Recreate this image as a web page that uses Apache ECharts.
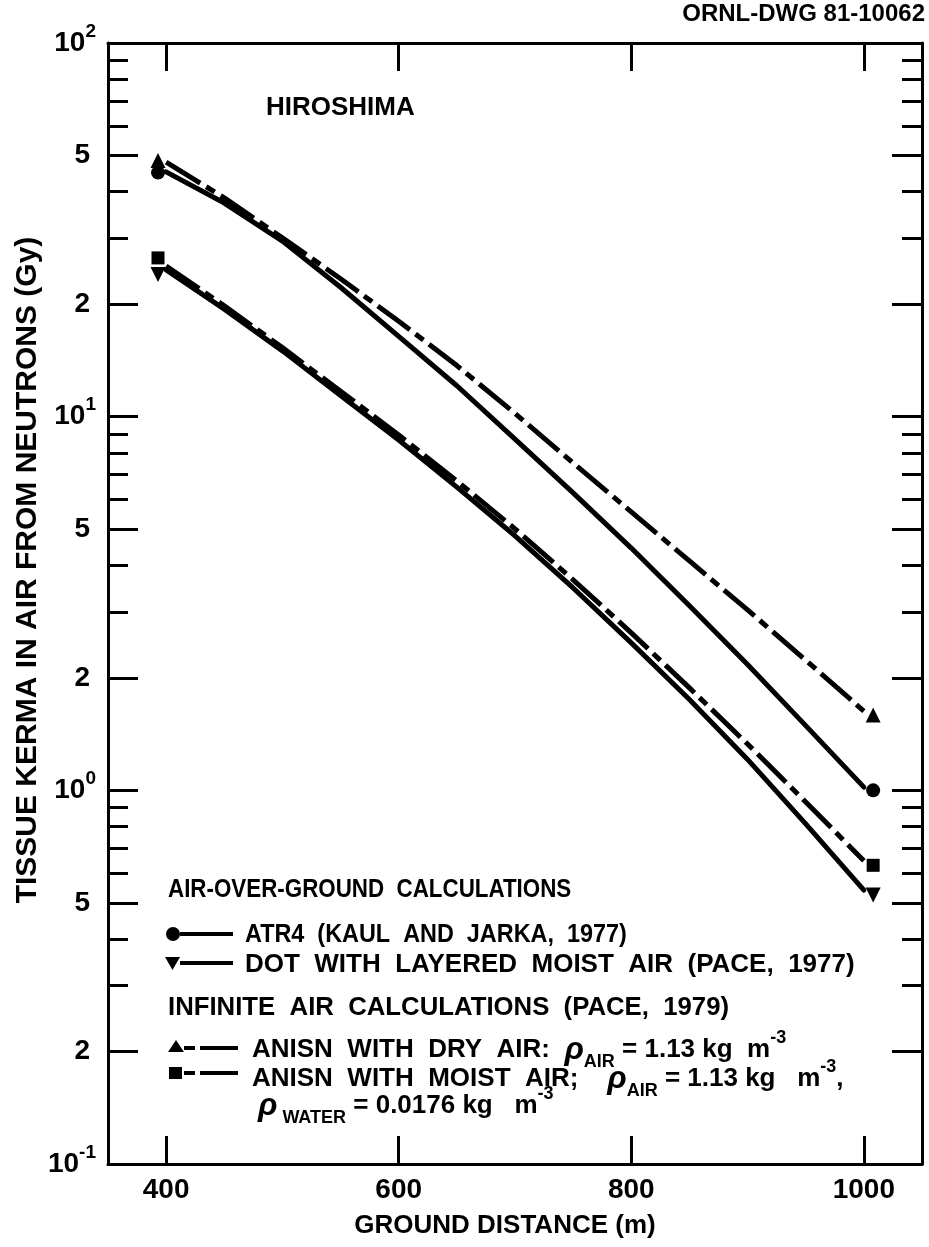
<!DOCTYPE html>
<html>
<head>
<meta charset="utf-8">
<script src="https://cdn.jsdelivr.net/npm/echarts@6/dist/echarts.min.js"></script>
<style>
  html, body { margin: 0; padding: 0; background: #fff; }
  #chart { width: 929px; height: 1247px; }
</style>
</head>
<body>
<div id="chart"></div>
<script>
// ---------------- data ----------------
const distances   = [400, 450, 500, 550, 600, 650, 700, 750, 800, 850, 900, 950, 1000];
const atr4        = [45.2, 37.3, 29.5, 22.2, 16.4, 12.1, 8.71, 6.25, 4.45, 3.12, 2.17, 1.49, 1.02];
const dotLayered  = [24.7, 19.4, 15.0, 11.4, 8.66, 6.48, 4.80, 3.48, 2.48, 1.75, 1.21, 0.813, 0.541];
const anisnDry    = [48.0, 38.5, 30.1, 23.4, 18.0, 13.7, 10.2, 7.52, 5.56, 4.11, 3.04, 2.23, 1.63];
const anisnMoist  = [25.3, 19.8, 15.3, 11.7, 8.93, 6.73, 5.01, 3.66, 2.64, 1.88, 1.33, 0.931, 0.648];

const markerDistances   = [393, 1008];
const atr4Markers       = [45.0, 1.0];
const dotMarkers        = [24.0, 0.525];
const anisnDryMarkers   = [48.5, 1.59];
const anisnMoistMarkers = [26.6, 0.63];

const xTickValues  = [400, 600, 800, 1000];
const yLabelValues = [0.1, 0.2, 0.5, 1, 2, 5, 10, 20, 50, 100];
const yMinorTicks  = [0.3, 0.4, 0.6, 0.7, 0.8, 0.9, 3, 4, 6, 7, 8, 9, 30, 40, 60, 70, 80, 90];

// ---------------- helpers ----------------
const FONT = '"Liberation Sans", Arial, sans-serif';
const pair = (xs, ys) => xs.map((x, i) => [x, ys[i]]);

function fmtY(v) {
  const e = Math.floor(Math.log10(v) + 1e-9);
  const m = Math.round(v / Math.pow(10, e));
  if (m === 1) return '{b|10}{s|' + e + '}';
  return '{d|' + m + '}';
}

const axisLineStyle = { color: '#000', width: 3 };
const tickStyle = { color: '#000', width: 3 };

function yAxisDef(position, ticks, len, showLine, showLabel) {
  return {
    type: 'log', logBase: 10, min: 0.1, max: 100, position: position,
    axisLine: { show: showLine, lineStyle: axisLineStyle },
    axisTick: { show: true, inside: true, length: len, customValues: ticks, lineStyle: tickStyle },
    minorTick: { show: false },
    splitLine: { show: false },
    axisLabel: showLabel ? {
      show: true, customValues: yLabelValues, formatter: fmtY, margin: 12, color: '#000',
      rich: {
        b: { fontSize: 28, fontWeight: 'bold', fontFamily: FONT, color: '#000', lineHeight: 42 },
        s: { fontSize: 19, fontWeight: 'bold', fontFamily: FONT, color: '#000', lineHeight: 20, verticalAlign: 'top' },
        d: { fontSize: 28, fontWeight: 'bold', fontFamily: FONT, color: '#000', padding: [0, 6, 0, 0] }
      }
    } : { show: false }
  };
}

const solid = { color: '#000', width: 5, type: 'solid', cap: 'round', join: 'round' };
const dashDot = { color: '#000', width: 5, type: [40, 7, 10, 7], cap: 'butt', join: 'round' };

function lineSeries(name, ys, style) {
  return {
    name: name, type: 'line', xAxisIndex: 0, yAxisIndex: 0,
    data: pair(distances, ys), showSymbol: false, symbol: 'none',
    smooth: false, lineStyle: style, itemStyle: { color: '#000' }, z: 3, silent: true
  };
}
function markerSeries(name, ys, symbol, size, rotate) {
  return {
    name: name, type: 'scatter', xAxisIndex: 0, yAxisIndex: 0,
    data: pair(markerDistances, ys), symbol: symbol, symbolSize: size, symbolRotate: rotate || 0,
    itemStyle: { color: '#000', opacity: 1 }, z: 5, silent: true
  };
}

// legend texts (rich)
const txt = { fontSize: 26, fontWeight: 'bold', fontFamily: FONT, fill: '#000' };
const richLegend = {
  t:   { fontSize: 26, fontWeight: 'bold', fontFamily: FONT, color: '#000', lineHeight: 42 },
  r:   { fontSize: 32, fontStyle: 'italic', fontWeight: 'bold', fontFamily: FONT, color: '#000', lineHeight: 42 },
  sub: { fontSize: 18, fontWeight: 'bold', fontFamily: FONT, color: '#000', lineHeight: 20, verticalAlign: 'bottom' },
  sup: { fontSize: 18, fontWeight: 'bold', fontFamily: FONT, color: '#000', lineHeight: 20, verticalAlign: 'top' }
};

function textEl(x, y, text, extra, sx) {
  return { type: 'text', x: x, y: y, z: 10, silent: true, scaleX: sx || 1,
    style: Object.assign({ text: text, verticalAlign: 'middle', align: 'left' }, txt, extra || {}) };
}
function richEl(x, y, text, sx) {
  return { type: 'text', x: x, y: y, z: 10, silent: true, scaleX: sx || 1,
    style: { text: text, rich: richLegend, verticalAlign: 'middle', align: 'left',
             fontSize: 26, fontWeight: 'bold', fontFamily: FONT, fill: '#000' } };
}
function seg(x1, x2, y, w) {
  return { type: 'line', z: 10, silent: true, shape: { x1: x1, y1: y, x2: x2, y2: y },
    style: { stroke: '#000', lineWidth: w || 4, lineCap: 'butt' } };
}

const graphics = [
  textEl(925, 14, 'ORNL-DWG 81-10062', { fontSize: 24, align: 'right' }),
  textEl(266, 108, 'HIROSHIMA', { fontSize: 26 }),
  { type: 'text', x: 28, y: 570, rotation: Math.PI / 2, z: 10, silent: true,
    style: Object.assign({ text: 'TISSUE KERMA IN AIR FROM NEUTRONS (Gy)', align: 'center', verticalAlign: 'middle' }, txt, { fontSize: 30 }) },
  textEl(505, 1226, 'GROUND DISTANCE (m)', { fontSize: 26, align: 'center' }),

  textEl(168, 890, 'AIR-OVER-GROUND  CALCULATIONS', null, 0.86),
  { type: 'circle', z: 10, silent: true, shape: { cx: 173, cy: 934, r: 7 }, style: { fill: '#000' } },
  seg(180, 233, 934),
  textEl(245, 935, 'ATR4  (KAUL  AND  JARKA,  1977)', null, 0.9),
  { type: 'polygon', z: 10, silent: true, shape: { points: [[165, 957], [180, 957], [172.5, 970]] }, style: { fill: '#000' } },
  seg(180, 233, 963),
  textEl(245, 965, 'DOT  WITH  LAYERED  MOIST  AIR  (PACE,  1977)', null, 1.0),

  textEl(168, 1008, 'INFINITE  AIR  CALCULATIONS  (PACE,  1979)', null, 0.99),
  { type: 'polygon', z: 10, silent: true, shape: { points: [[168, 1052], [184, 1052], [176, 1040]] }, style: { fill: '#000' } },
  seg(184, 195, 1048), seg(200, 238, 1048),
  richEl(252, 1050, '{t|ANISN  WITH  DRY  AIR:  }{r|ρ}{sub|AIR}{t| = 1.13 kg  m}{sup|-3}'),
  { type: 'rect', z: 10, silent: true, shape: { x: 169, y: 1067, width: 13, height: 12 }, style: { fill: '#000' } },
  seg(184, 195, 1073), seg(200, 238, 1073),
  richEl(252, 1079, '{t|ANISN  WITH  MOIST  AIR;    }{r|ρ}{sub|AIR}{t| = 1.13 kg   m}{sup|-3}{t|,}'),
  richEl(258, 1106, '{r|ρ}{sub| WATER}{t| = 0.0176 kg   m}{sup|-3}')
];

const option = {
  backgroundColor: '#fff',
  animation: false,
  grid: { left: 108, right: 7, top: 43, bottom: 83, containLabel: false },
  xAxis: [
    { type: 'value', min: 350, max: 1050, position: 'bottom',
      axisLine: { show: true, lineStyle: axisLineStyle },
      axisTick: { show: true, inside: true, length: 28, customValues: xTickValues, lineStyle: tickStyle },
      axisLabel: { show: true, customValues: xTickValues, margin: 12, color: '#000',
        formatter: v => String(v),
        fontSize: 28, fontWeight: 'bold', fontFamily: FONT },
      splitLine: { show: false } },
    { type: 'value', min: 350, max: 1050, position: 'top',
      axisLine: { show: true, lineStyle: axisLineStyle },
      axisTick: { show: true, inside: true, length: 28, customValues: xTickValues, lineStyle: tickStyle },
      axisLabel: { show: false },
      splitLine: { show: false } }
  ],
  yAxis: [
    yAxisDef('left', yLabelValues, 30, true, true),
    yAxisDef('left', yMinorTicks, 20, false, false),
    yAxisDef('right', yLabelValues, 30, true, false),
    yAxisDef('right', yMinorTicks, 20, false, false)
  ],
  series: [
    lineSeries('ATR4 (KAUL AND JARKA, 1977)', atr4, solid),
    lineSeries('DOT WITH LAYERED MOIST AIR (PACE, 1977)', dotLayered, solid),
    lineSeries('ANISN WITH DRY AIR', anisnDry, dashDot),
    lineSeries('ANISN WITH MOIST AIR', anisnMoist, dashDot),
    markerSeries('ATR4 markers', atr4Markers, 'circle', 14),
    markerSeries('DOT markers', dotMarkers, 'triangle', 15, 180),
    markerSeries('ANISN dry markers', anisnDryMarkers, 'triangle', 15),
    markerSeries('ANISN moist markers', anisnMoistMarkers, 'rect', 13)
  ],
  graphic: graphics
};

const chart = echarts.init(document.getElementById('chart'), null, { renderer: 'canvas' });
chart.setOption(option);
</script>
</body>
</html>
